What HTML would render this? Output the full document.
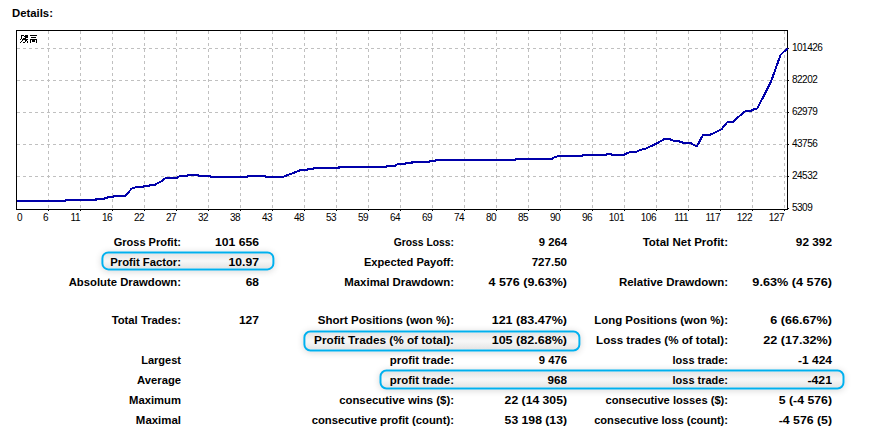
<!DOCTYPE html>
<html><head><meta charset="utf-8"><style>
html,body{margin:0;padding:0;background:#fff;}
body{width:872px;height:432px;position:relative;overflow:hidden;font-family:"Liberation Sans",sans-serif;color:#000;}
.title{position:absolute;left:12px;top:7px;transform:scaleX(1.03);transform-origin:0 0;font-weight:bold;font-size:11px;line-height:13px;}
svg{position:absolute;left:0;top:0;}
.xl,.yl{position:absolute;font-size:10px;line-height:10px;letter-spacing:-0.5px;white-space:nowrap;}
.xl{top:213px;text-align:right;}
.yl{left:792px;}
.t{position:absolute;width:300px;text-align:right;transform-origin:100% 0;font-weight:bold;font-size:11px;line-height:13px;white-space:nowrap;}
.hl{position:absolute;border:2px solid #00b0ee;border-radius:7px;background:linear-gradient(#e4e4e4,#f6f6f6 45%,#f6f6f6 55%,#e4e4e4);
 box-shadow: 0 1px 7px rgba(0,0,0,0.16);}
</style></head><body>
<div class="title">Details:</div>
<svg width="872" height="432" viewBox="0 0 872 432">
<g stroke="#c0c0c0" stroke-width="1" stroke-dasharray="3 3" shape-rendering="crispEdges">
<line x1="48.5" y1="31" x2="48.5" y2="208" />
<line x1="80.5" y1="31" x2="80.5" y2="208" />
<line x1="112.5" y1="31" x2="112.5" y2="208" />
<line x1="144.5" y1="31" x2="144.5" y2="208" />
<line x1="176.5" y1="31" x2="176.5" y2="208" />
<line x1="208.5" y1="31" x2="208.5" y2="208" />
<line x1="240.5" y1="31" x2="240.5" y2="208" />
<line x1="272.5" y1="31" x2="272.5" y2="208" />
<line x1="304.5" y1="31" x2="304.5" y2="208" />
<line x1="336.5" y1="31" x2="336.5" y2="208" />
<line x1="368.5" y1="31" x2="368.5" y2="208" />
<line x1="400.5" y1="31" x2="400.5" y2="208" />
<line x1="432.5" y1="31" x2="432.5" y2="208" />
<line x1="464.5" y1="31" x2="464.5" y2="208" />
<line x1="496.5" y1="31" x2="496.5" y2="208" />
<line x1="528.5" y1="31" x2="528.5" y2="208" />
<line x1="560.5" y1="31" x2="560.5" y2="208" />
<line x1="592.5" y1="31" x2="592.5" y2="208" />
<line x1="624.5" y1="31" x2="624.5" y2="208" />
<line x1="656.5" y1="31" x2="656.5" y2="208" />
<line x1="688.5" y1="31" x2="688.5" y2="208" />
<line x1="720.5" y1="31" x2="720.5" y2="208" />
<line x1="752.5" y1="31" x2="752.5" y2="208" />
<line x1="784.5" y1="31" x2="784.5" y2="208" />
<line x1="17" y1="48.5" x2="787" y2="48.5" />
<line x1="17" y1="80.5" x2="787" y2="80.5" />
<line x1="17" y1="112.5" x2="787" y2="112.5" />
<line x1="17" y1="144.5" x2="787" y2="144.5" />
<line x1="17" y1="176.5" x2="787" y2="176.5" />
</g>
<rect x="16.5" y="30.5" width="771" height="179" fill="none" stroke="#000" stroke-width="1" shape-rendering="crispEdges"/>
<g fill="#000"><rect x="48" y="210" width="1" height="1"/><rect x="80" y="210" width="1" height="1"/><rect x="112" y="210" width="1" height="1"/><rect x="144" y="210" width="1" height="1"/><rect x="176" y="210" width="1" height="1"/><rect x="208" y="210" width="1" height="1"/><rect x="240" y="210" width="1" height="1"/><rect x="272" y="210" width="1" height="1"/><rect x="304" y="210" width="1" height="1"/><rect x="336" y="210" width="1" height="1"/><rect x="368" y="210" width="1" height="1"/><rect x="400" y="210" width="1" height="1"/><rect x="432" y="210" width="1" height="1"/><rect x="464" y="210" width="1" height="1"/><rect x="496" y="210" width="1" height="1"/><rect x="528" y="210" width="1" height="1"/><rect x="560" y="210" width="1" height="1"/><rect x="592" y="210" width="1" height="1"/><rect x="624" y="210" width="1" height="1"/><rect x="656" y="210" width="1" height="1"/><rect x="688" y="210" width="1" height="1"/><rect x="720" y="210" width="1" height="1"/><rect x="752" y="210" width="1" height="1"/><rect x="784" y="210" width="1" height="1"/><rect x="788" y="48" width="1" height="1"/><rect x="788" y="80" width="1" height="1"/><rect x="788" y="112" width="1" height="1"/><rect x="788" y="144" width="1" height="1"/><rect x="788" y="176" width="1" height="1"/><rect x="788" y="208" width="1" height="1"/><rect x="21" y="35" width="3" height="1"/><rect x="21" y="35" width="1" height="4"/><rect x="25" y="35" width="3" height="3"/><rect x="24" y="36" width="1" height="1"/><rect x="23" y="38" width="3" height="2"/><rect x="26" y="39" width="2" height="1"/><rect x="20" y="39" width="1" height="1"/><rect x="22" y="39" width="1" height="2"/><rect x="21" y="41" width="1" height="1"/><rect x="20" y="42" width="1" height="1"/><rect x="25" y="40" width="2" height="1"/><rect x="25" y="41" width="1" height="1"/><rect x="23" y="42" width="2" height="1"/><rect x="27" y="41" width="1" height="2"/><rect x="30" y="35" width="7" height="1"/><rect x="31" y="37" width="5" height="1"/><rect x="30" y="39" width="7" height="1"/><rect x="30" y="40" width="1" height="3"/><rect x="36" y="40" width="1" height="3"/><rect x="32" y="40" width="3" height="2"/></g>
<polyline points="17,200.9 64.9,200.9 65.5,199.9 95.8,199.9 96.4,198.9 104.5,198.9 105.1,197.8 107.3,197.8 107.9,196.7 113.7,196.7 114.3,195.8 125.2,195.8 131.7,188.6 134.8,187.6 137.4,186.8 143.1,186.8 144.1,185.9 149.3,185.9 149.8,184.8 155.4,184.8 157,183.5 161.1,181.4 165.8,178 176.6,178 178.1,177 180.7,175.9 186.9,175.9 188,175 198.3,175 198.8,175.9 210.1,175.9 210.7,177 247,177 247.7,176 265.2,176 266,177 283,176.9 301.5,169.8 307.5,169.8 308,168.8 313.5,168.8 314,167.8 338.8,167.8 339.3,166.8 386.7,166.8 387.5,165.7 395.3,165.7 396,164.8 398.8,164.1 405,164.1 405.7,162.8 411.9,162.8 412.5,161.7 429.1,161.7 429.7,160.9 435.3,160.9 436.2,160 514.8,160 515.5,158.9 552.2,158.9 553.3,157.8 556,157 558.8,155.9 581.9,155.9 582.9,155 605.7,155 607,153.8 610.8,153.8 612,155 623.4,155 629.7,152.1 635.4,152.1 640.4,149.9 645.5,148.7 650.5,146.4 658.1,142.6 664.4,139.1 669.4,139.1 673.2,140.7 678.3,141.1 682.7,142.6 689.6,142.6 696,146 697.2,145.8 703.1,134.8 709.9,134.8 713.5,133.3 716.7,131.7 721.9,128.9 725,124.7 727.6,121.9 732.8,121.9 736.5,118.75 741.7,114 745.8,110.8 751,110.8 753.1,109.6 757.3,108.5 771,81.7 780.6,54.8 787.5,48.3" fill="none" stroke="#0000aa" stroke-width="2" stroke-linejoin="miter" shape-rendering="crispEdges"/>
</svg>
<div class="xl" style="left:17px;text-align:left">0</div><div class="xl" style="left:-12px;width:60px">6</div><div class="xl" style="left:20px;width:60px">11</div><div class="xl" style="left:52px;width:60px">16</div><div class="xl" style="left:84px;width:60px">22</div><div class="xl" style="left:116px;width:60px">27</div><div class="xl" style="left:148px;width:60px">32</div><div class="xl" style="left:180px;width:60px">38</div><div class="xl" style="left:212px;width:60px">43</div><div class="xl" style="left:244px;width:60px">48</div><div class="xl" style="left:276px;width:60px">53</div><div class="xl" style="left:308px;width:60px">59</div><div class="xl" style="left:340px;width:60px">64</div><div class="xl" style="left:372px;width:60px">69</div><div class="xl" style="left:404px;width:60px">74</div><div class="xl" style="left:436px;width:60px">80</div><div class="xl" style="left:468px;width:60px">85</div><div class="xl" style="left:500px;width:60px">90</div><div class="xl" style="left:532px;width:60px">96</div><div class="xl" style="left:564px;width:60px">101</div><div class="xl" style="left:596px;width:60px">106</div><div class="xl" style="left:628px;width:60px">111</div><div class="xl" style="left:660px;width:60px">117</div><div class="xl" style="left:692px;width:60px">122</div><div class="xl" style="left:724px;width:60px">127</div>
<div class="yl" style="top:43px">101426</div><div class="yl" style="top:75px">82202</div><div class="yl" style="top:107px">62979</div><div class="yl" style="top:139px">43756</div><div class="yl" style="top:171px">24532</div><div class="yl" style="top:203px">5309</div>
<div class="hl" style="left:101px;top:251px;width:169.0px;height:15.0px;transform:translate(0.40px,0.40px)"></div>
<div class="hl" style="left:303px;top:330px;width:273.0px;height:16.9px;transform:translate(0.40px,0.50px)"></div>
<div class="hl" style="left:379px;top:369px;width:460.9px;height:15.9px;transform:translate(0.50px,0.50px)"></div>
<div class="t" style="top:236px;left:-119px;transform:scaleX(1.0015)">Gross Profit:</div>
<div class="t" style="top:236px;left:-41px;transform:scaleX(1.1077)">101 656</div>
<div class="t" style="top:236px;left:154px;transform:scaleX(0.9391)">Gross Loss:</div>
<div class="t" style="top:236px;left:267px;transform:scaleX(1.0250)">9 264</div>
<div class="t" style="top:236px;left:428px;transform:scaleX(1.0451)">Total Net Profit:</div>
<div class="t" style="top:236px;left:532px;transform:scaleX(1.0735)">92 392</div>
<div class="t" style="top:256px;left:-119px;transform:scaleX(1.0246)">Profit Factor:</div>
<div class="t" style="top:256px;left:-41px;transform:scaleX(1.1037)">10.97</div>
<div class="t" style="top:256px;left:154px;transform:scaleX(1.0090)">Expected Payoff:</div>
<div class="t" style="top:256px;left:267px;transform:scaleX(1.0500)">727.50</div>
<div class="t" style="top:276px;left:-119px;transform:scaleX(1.0266)">Absolute Drawdown:</div>
<div class="t" style="top:276px;left:-41px;transform:scaleX(1.0833)">68</div>
<div class="t" style="top:276px;left:154px;transform:scaleX(1.0377)">Maximal Drawdown:</div>
<div class="t" style="top:276px;left:267px;transform:scaleX(1.1362)">4 576 (9.63%)</div>
<div class="t" style="top:276px;left:428px;transform:scaleX(1.0433)">Relative Drawdown:</div>
<div class="t" style="top:276px;left:532px;transform:scaleX(1.1522)">9.63% (4 576)</div>
<div class="t" style="top:314px;left:-119px;transform:scaleX(1.0250)">Total Trades:</div>
<div class="t" style="top:314px;left:-41px;transform:scaleX(1.0944)">127</div>
<div class="t" style="top:314px;left:154px;transform:scaleX(1.0462)">Short Positions (won %):</div>
<div class="t" style="top:314px;left:267px;transform:scaleX(1.1409)">121 (83.47%)</div>
<div class="t" style="top:314px;left:428px;transform:scaleX(1.0430)">Long Positions (won %):</div>
<div class="t" style="top:314px;left:532px;transform:scaleX(1.1463)">6 (66.67%)</div>
<div class="t" style="top:334px;left:154px;transform:scaleX(1.0702)">Profit Trades (% of total):</div>
<div class="t" style="top:334px;left:267px;transform:scaleX(1.1409)">105 (82.68%)</div>
<div class="t" style="top:334px;left:428px;transform:scaleX(1.0528)">Loss trades (% of total):</div>
<div class="t" style="top:334px;left:532px;transform:scaleX(1.1483)">22 (17.32%)</div>
<div class="t" style="top:354px;left:-119px;transform:scaleX(1.0025)">Largest</div>
<div class="t" style="top:354px;left:154px;transform:scaleX(1.0403)">profit trade:</div>
<div class="t" style="top:354px;left:267px;transform:scaleX(1.0250)">9 476</div>
<div class="t" style="top:354px;left:428px;transform:scaleX(0.9964)">loss trade:</div>
<div class="t" style="top:354px;left:532px;transform:scaleX(1.0871)">-1 424</div>
<div class="t" style="top:374px;left:-119px;transform:scaleX(1.0209)">Average</div>
<div class="t" style="top:374px;left:154px;transform:scaleX(1.0403)">profit trade:</div>
<div class="t" style="top:374px;left:267px;transform:scaleX(1.0611)">968</div>
<div class="t" style="top:374px;left:428px;transform:scaleX(0.9964)">loss trade:</div>
<div class="t" style="top:374px;left:532px;transform:scaleX(1.1136)">-421</div>
<div class="t" style="top:394px;left:-119px;transform:scaleX(1.0235)">Maximum</div>
<div class="t" style="top:394px;left:154px;transform:scaleX(1.0324)">consecutive wins ($):</div>
<div class="t" style="top:394px;left:267px;transform:scaleX(1.1089)">22 (14 305)</div>
<div class="t" style="top:394px;left:428px;transform:scaleX(1.0124)">consecutive losses ($):</div>
<div class="t" style="top:394px;left:532px;transform:scaleX(1.1167)">5 (-4 576)</div>
<div class="t" style="top:414px;left:-119px;transform:scaleX(1.0395)">Maximal</div>
<div class="t" style="top:414px;left:154px;transform:scaleX(1.0259)">consecutive profit (count):</div>
<div class="t" style="top:414px;left:267px;transform:scaleX(1.1089)">53 198 (13)</div>
<div class="t" style="top:414px;left:428px;transform:scaleX(1.0090)">consecutive loss (count):</div>
<div class="t" style="top:414px;left:532px;transform:scaleX(1.1167)">-4 576 (5)</div>
</body></html>
